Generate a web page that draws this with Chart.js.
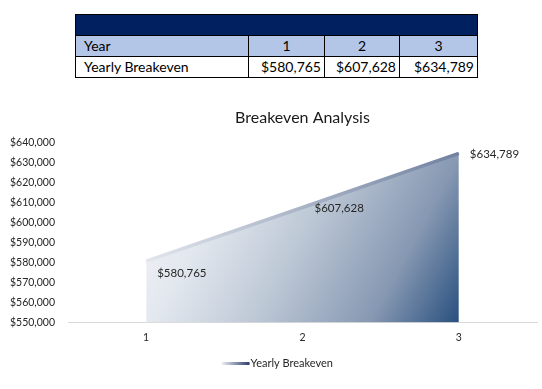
<!DOCTYPE html>
<html>
<head>
<meta charset="utf-8">
<script src="https://cdn.jsdelivr.net/npm/chart.js@4"></script>
<style>
  body { margin: 0; background: #fff; font-family: Lato, "Open Sans", sans-serif; }
  #wrap { position: relative; width: 542px; height: 389px; overflow: hidden; }
  #chart { position: absolute; left: 0; top: 0; }
  table { position: absolute; left: 75px; top: 14px; border-collapse: collapse; table-layout: fixed; font-size: 14px; color: #000; z-index: 2; background: #fff; }
  td { border: 1px solid #000; height: 20px; padding: 0 3px; line-height: 20px; white-space: nowrap; }
  td:first-child { padding-left: 8px; }
  tr.head td { background: #002060; border-left: none; border-right: none; }
  tr.head td:first-child { border-left: 1px solid #000; }
  tr.head td:last-child { border-right: 1px solid #000; }
  tr.year td { background: #b4c6e7; text-align: center; }
  tr.year td:first-child { text-align: left; }
  tr.vals td { text-align: right; }
  tr.vals td:first-child { text-align: left; }
</style>
</head>
<body>
<div id="wrap">
  <table id="tbl"></table>
  <canvas id="chart" width="542" height="389"></canvas>
</div>
<script>
const getEl = (id) => document.getElementById(id)

// data
const years = ['1', '2', '3']
const breakeven = [580765, 607628, 634789]
const seriesName = 'Yearly Breakeven'
const chartTitle = 'Breakeven Analysis'
const yMin = 550000
const yMax = 640000
const yStep = 10000

const money = (v) => '$' + v.toLocaleString('en-US')

// table above the chart
let tbl = getEl('tbl')
let colW = [162, 70, 69, 72]
let html = '<colgroup>' + colW.map(w => `<col style="width:${w + (w === 162 ? 11 : 6)}px">`).join('') + '</colgroup>'
html += '<tr class="head"><td></td>' + years.map(() => '<td></td>').join('') + '</tr>'
html += '<tr class="year"><td>Year</td>' + years.map(y => `<td>${y}</td>`).join('') + '</tr>'
html += `<tr class="vals"><td>${seriesName}</td>` + breakeven.map(v => `<td>${money(v)}</td>`).join('') + '</tr>'
tbl.innerHTML = html

const fillGrad = (context) => {
    const chart = context.chart
    if (!chart.chartArea) return '#c0c8d8'
    const x0 = chart.scales.x.getPixelForValue(0)
    const x1 = chart.scales.x.getPixelForValue(years.length - 1)
    const y0 = chart.scales.y.getPixelForValue(Math.max(...breakeven))
    const y1 = chart.chartArea.bottom
    const g = chart.ctx.createLinearGradient(x0, y0, x1, y1)
    g.addColorStop(0, '#f6f8fa')
    g.addColorStop(0.25, '#e2e7ee')
    g.addColorStop(0.5, '#bcc7d5')
    g.addColorStop(0.78, '#8698b2')
    g.addColorStop(1, '#29507f')
    return g
}

const lineGrad = (context) => {
    const area = context.chart.chartArea
    if (!area) return '#8090aa'
    const g = context.chart.ctx.createLinearGradient(area.left + 78, 0, area.right - 78, 0)
    g.addColorStop(0, '#e2e6ed')
    g.addColorStop(1, '#7181a0')
    return g
}

// title centred over the plot area, value labels right of each point,
// legend entry drawn over the (invisible) built-in legend's spot
const labelOffsets = [[11, 12], [12, 1], [11, 1]]
const extras = {
    id: 'extras',
    afterDraw(chart) {
        const ctx = chart.ctx
        const area = chart.chartArea
        const meta = chart.getDatasetMeta(0)
        ctx.save()
        ctx.textBaseline = 'middle'
        ctx.textAlign = 'center'
        ctx.fillStyle = '#1a1a1a'
        ctx.font = '16px Lato, "Open Sans", sans-serif'
        ctx.fillText(chartTitle, (area.left + area.right) / 2, 118)

        ctx.font = '11.5px Lato, "Open Sans", sans-serif'
        ctx.fillStyle = '#262626'
        ctx.textAlign = 'left'
        meta.data.forEach((pt, i) => {
            ctx.fillText(money(breakeven[i]), pt.x + labelOffsets[i][0], pt.y + labelOffsets[i][1])
        })

        const hb = chart.legend.legendHitBoxes[0]
        if (hb) {
            const lx = hb.left + 8
            const ly = hb.top + hb.height / 2
            const g = ctx.createLinearGradient(lx, 0, lx + 28, 0)
            g.addColorStop(0, '#eef0f5')
            g.addColorStop(1, '#2c3c6c')
            ctx.strokeStyle = g
            ctx.lineWidth = 3
            ctx.beginPath()
            ctx.moveTo(lx, ly)
            ctx.lineTo(lx + 28, ly)
            ctx.stroke()
            ctx.font = '11px Lato, "Open Sans", sans-serif'
            ctx.fillText(seriesName, lx + 29, ly)
        }
        ctx.restore()
    }
}

new Chart(getEl('chart').getContext('2d'), {
    type: 'line',
    data: {
        labels: years,
        datasets: [{
            label: seriesName,
            data: breakeven,
            fill: 'start',
            backgroundColor: fillGrad,
            borderColor: lineGrad,
            borderWidth: 3.5,
            pointRadius: 0,
            tension: 0
        }]
    },
    options: {
        responsive: false,
        animation: false,
        layout: { padding: { top: 143, left: 4, right: 5, bottom: 10 } },
        scales: {
            x: {
                offset: true,
                grid: { display: false, drawTicks: false },
                border: { color: '#d9d9d9' },
                afterFit: (scale) => { scale.height = scale.height - 1 },
                ticks: { color: '#262626', font: { size: 10.5, family: 'Lato' }, padding: 9 }
            },
            y: {
                min: yMin,
                max: yMax,
                afterFit: (scale) => { scale.width = 64 },
                grid: { display: false },
                border: { display: false },
                ticks: {
                    stepSize: yStep,
                    color: '#262626',
                    font: { size: 10.5, family: 'Lato' },
                    padding: 5,
                    callback: (v) => money(v)
                }
            }
        },
        plugins: {
            title: { display: false },
            legend: {
                position: 'bottom',
                labels: {
                    color: 'rgba(0,0,0,0)',
                    font: { size: 11, family: 'Lato' },
                    padding: 6,
                    usePointStyle: true,
                    pointStyle: 'line',
                    pointStyleWidth: 26,
                    generateLabels: () => [{
                        text: seriesName,
                        fontColor: 'rgba(0,0,0,0)',
                        fillStyle: 'rgba(0,0,0,0)',
                        strokeStyle: 'rgba(0,0,0,0)',
                        lineWidth: 3,
                        pointStyle: 'line',
                        datasetIndex: 0
                    }]
                }
            },
            tooltip: { enabled: false }
        }
    },
    plugins: [extras]
})
</script>
</body>
</html>
